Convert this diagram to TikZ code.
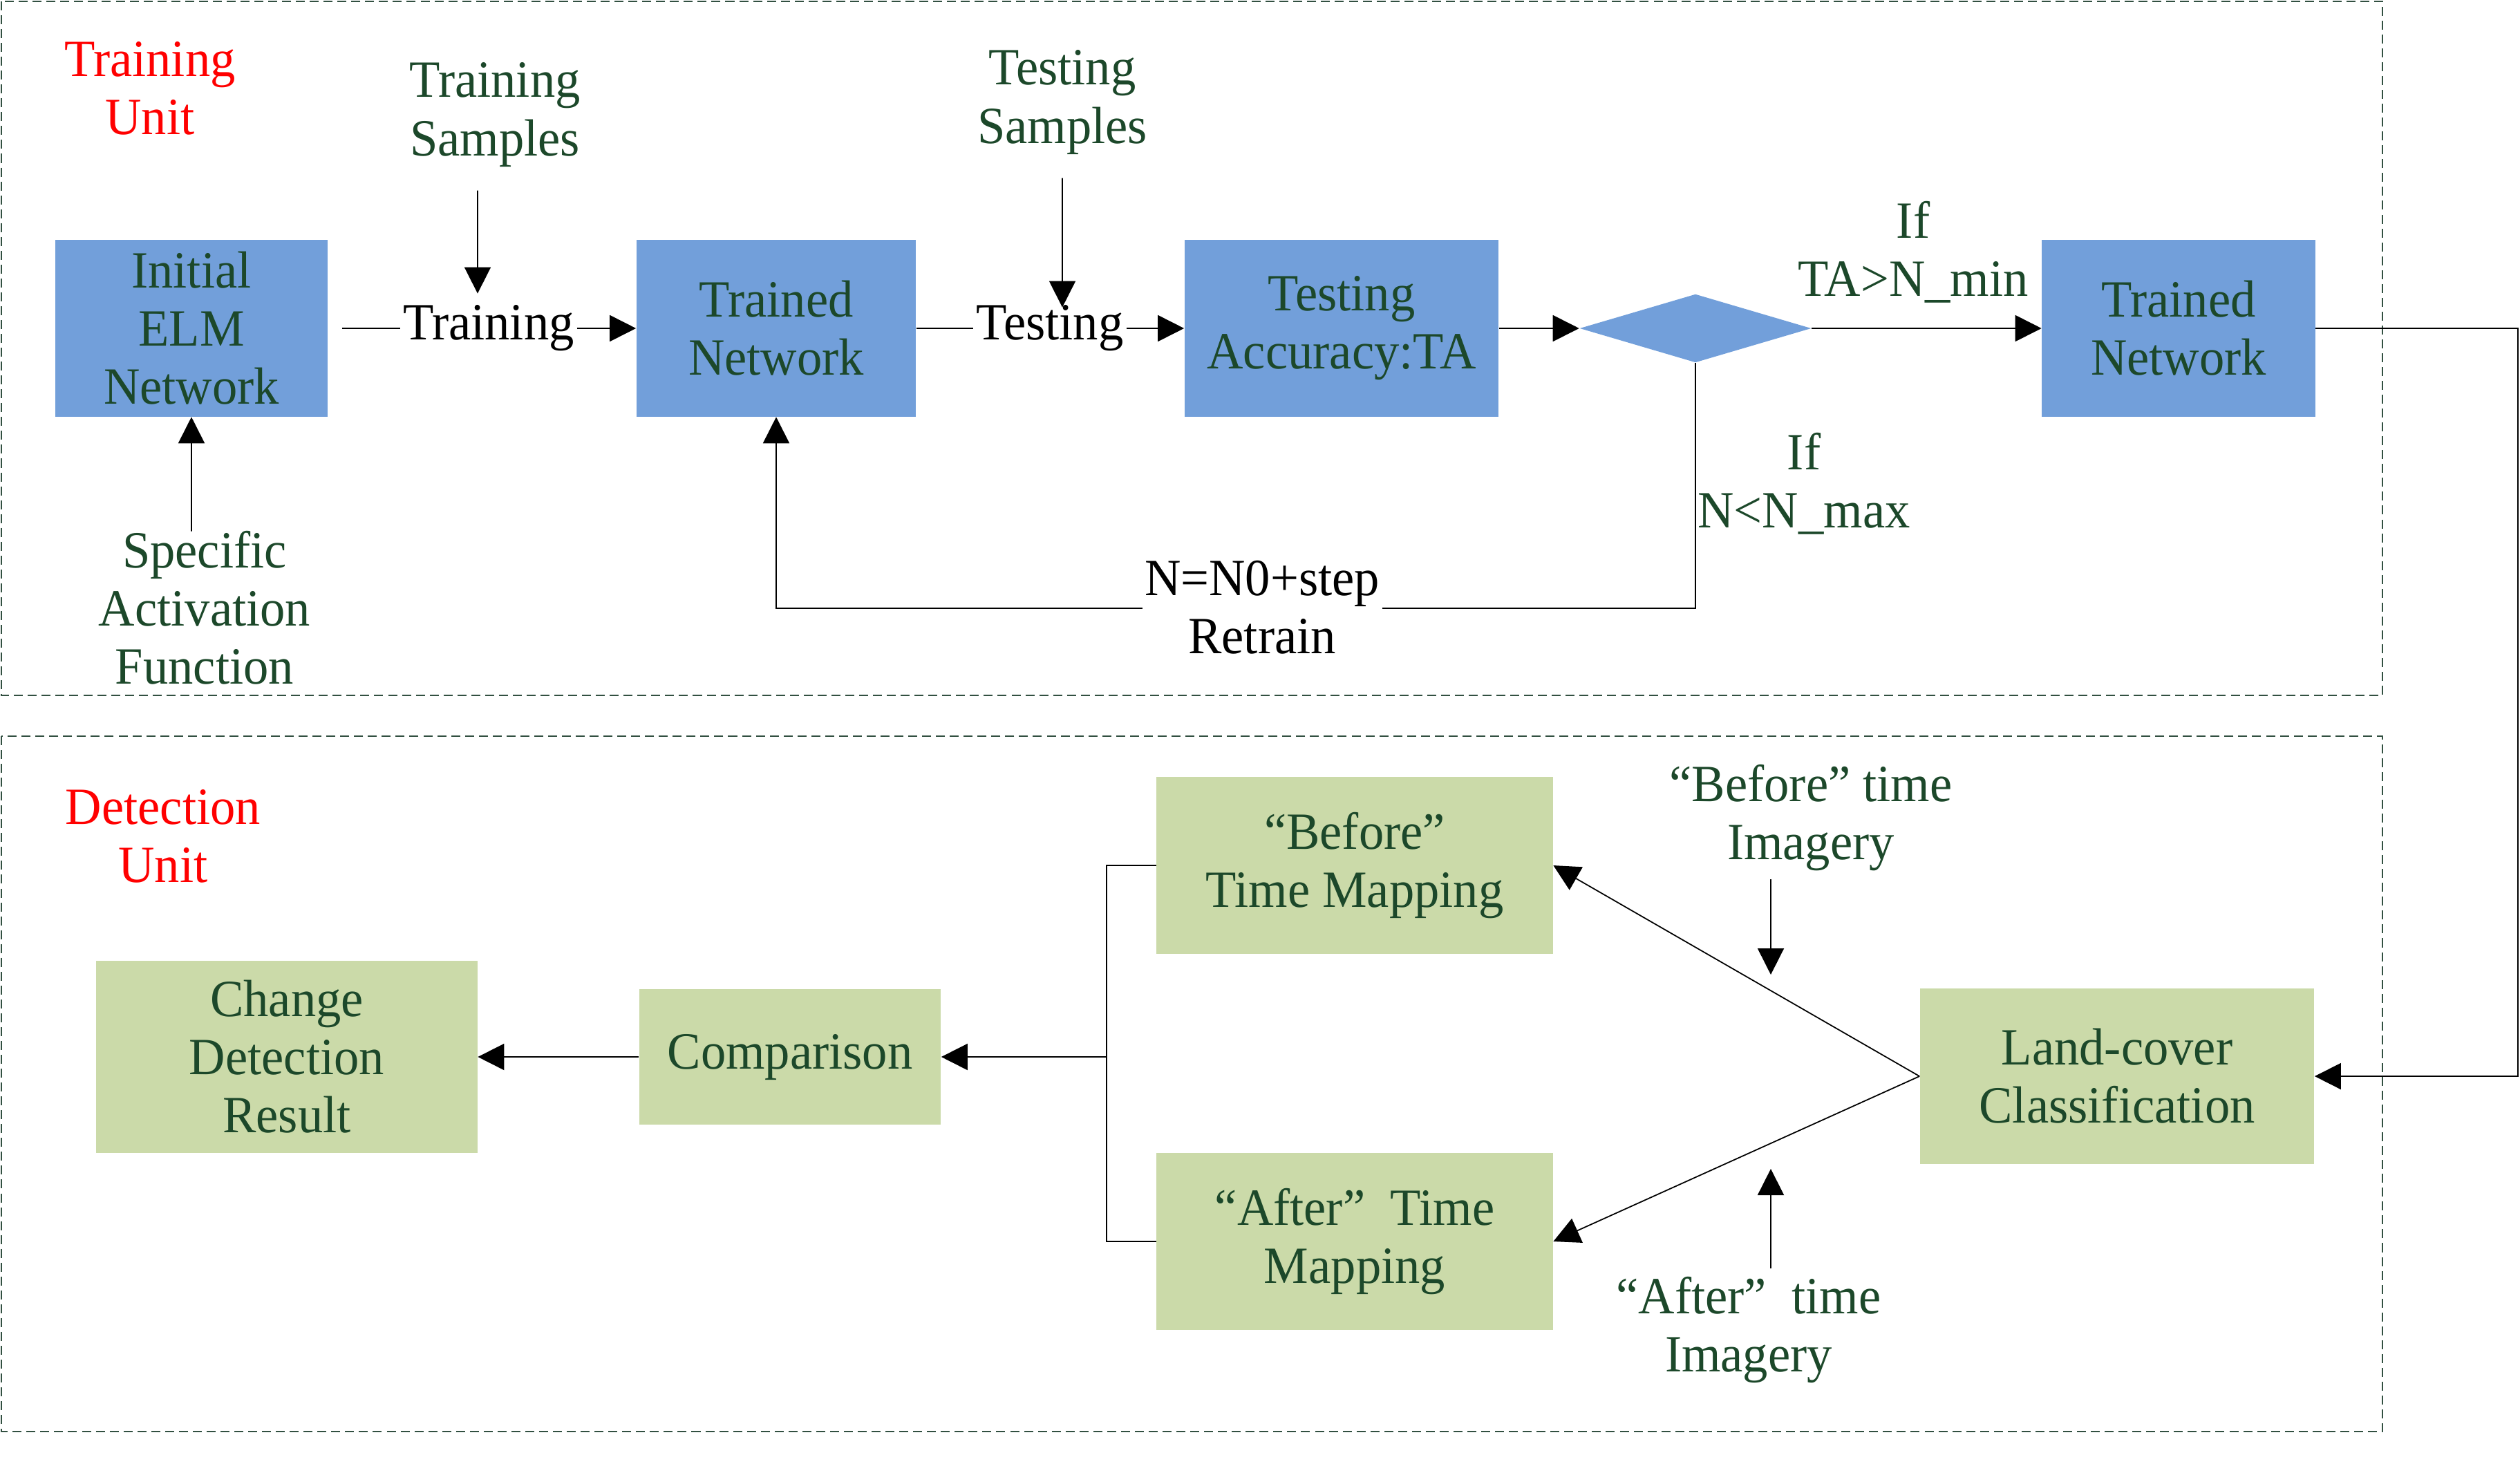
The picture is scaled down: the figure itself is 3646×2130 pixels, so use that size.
\documentclass[tikz,border=0pt]{standalone}
\usepackage{fontspec}
\setmainfont{Liberation Serif}[FakeStretch=0.96]
\usetikzlibrary{arrows.meta,shapes.geometric}
\definecolor{boxblue}{RGB}{114,159,218}
\definecolor{boxgreen}{RGB}{203,218,169}
\definecolor{txtgreen}{RGB}{28,72,42}
\definecolor{framegreen}{RGB}{50,80,65}
\begin{document}
\begin{tikzpicture}[x=0.01cm,y=-0.01cm,
  every node/.style={font=\fontsize{21.5}{23.9}\selectfont,text=txtgreen,align=center},
  blubox/.style={fill=boxblue,inner sep=0pt,minimum height=2.55cm},
  grnbox/.style={fill=boxgreen,inner sep=0pt},
  conn/.style={line width=0.5pt},
  arr/.style={-{Triangle[length=3.8mm,width=3.8mm]}},
  frame/.style={draw=framegreen,line width=0.45pt,dash pattern=on 3.7pt off 2pt}]
  \useasboundingbox (0,0) rectangle (3646,2130);

  \draw[frame] (2,2) rectangle (3447,1006);
  \draw[frame] (2,1065) rectangle (3447,2071);

  \node[blubox,minimum width=3.94cm] (init) at (277,475) {Initial\\ELM\\Network};
  \node[blubox,minimum width=4.04cm] (trained) at (1123,475) {Trained\\Network};
  \node[blubox,minimum width=4.54cm] (testacc) at (1941,475) {Testing\\Accuracy:TA};
  \node[diamond,fill=boxblue,inner sep=0pt,minimum width=3.35cm,minimum height=0.99cm] (decide) at (2453,475) {};
  \node[blubox,minimum width=3.95cm] (trainedB) at (3152,475) {Trained\\Network};

  \node[grnbox,minimum width=5.70cm,minimum height=2.53cm] (landcover) at (3063,1557) {Land-cover\\Classification};
  \node[grnbox,minimum width=5.73cm,minimum height=2.56cm] (before) at (1960,1252) {“Before”\\Time Mapping};
  \node[grnbox,minimum width=5.73cm,minimum height=2.55cm] (after) at (1960,1796) {“After”~~Time\\Mapping};
  \node[grnbox,minimum width=4.36cm,minimum height=1.95cm] (compare) at (1143,1529) {Comparison};
  \node[grnbox,minimum width=5.51cm,minimum height=2.78cm] (result) at (415,1529) {Change\\Detection\\Result};

  \node[text=red] (trainunit) at (217,128) {Training\\Unit};
  \node[text=red] (detunit) at (236,1210) {Detection\\Unit};
  \node (trsamples) at (716,166) {Training\\Samples};
  \node (tesamples) at (1537,148) {Testing\\Samples};
  \node (actfn) at (296,879) {Specific\\Activation\\Function};
  \node[text=black,inner sep=1pt] (trlbl) at (707,475) {Training};
  \node[text=black,inner sep=1pt] (telbl) at (1519,475) {Testing};
  \node (ifmin) at (2768,365) {If\\TA>N\_min};
  \node (ifmax) at (2610,700) {If\\N<N\_max};
  \node (beforeimg) at (2620,1183) {“Before” time\\Imagery};
  \node (afterimg) at (2530,1924) {“After”~~time\\Imagery};

  \coordinate (loop) at (1123,880);
  \coordinate (rt) at (3643,1000);
  \coordinate (bfend) at (2562,1410);
  \coordinate (afend) at (2562,1691);
  \coordinate (brk) at (1601,1529);

  \draw[conn] ([xshift=0.2cm]init.east) -- (trlbl.west);
  \draw[conn,arr] (trlbl.east) -- (trained.west);
  \draw[conn,arr] ([shift={(-0.25cm,-0.22cm)}]trsamples.south) -- ([shift={(-0.16cm,0.13cm)}]trlbl.north);
  \draw[conn,arr] ([shift={(-0.19cm,-0.13cm)}]actfn.north) -- (init.south);
  \draw[conn] (trained.east) -- (telbl.west);
  \draw[conn,arr] (telbl.east) -- (testacc.west);
  \draw[conn,arr] ([yshift=-0.22cm]tesamples.south) -- ([shift={(0.18cm,-0.07cm)}]telbl.north);
  \draw[conn,arr] (testacc.east) -- (decide.west);
  \draw[conn,arr] (decide.east) -- (trainedB.west);
  \draw[conn,arr] (decide.south) |- (loop) -- (trained.south);
  \node[text=black,fill=white,inner xsep=1pt,inner ysep=0pt] (retrain) at (1826,879) {N=N0+step\\Retrain};

  \draw[conn,arr] (trainedB.east) -| (rt) |- (landcover.east);
  \draw[conn,arr] (landcover.west) -- (before.east);
  \draw[conn,arr] (landcover.west) -- (after.east);
  \draw[conn,arr] (beforeimg.south -| bfend) -- (bfend);
  \draw[conn,arr] (afterimg.north -| afend) -- (afend);
  \draw[conn] (before.west) -| (brk) |- (after.west);
  \draw[conn,arr] (brk) -- (compare.east);
  \draw[conn,arr] (compare.west) -- (result.east);
\end{tikzpicture}
\end{document}
